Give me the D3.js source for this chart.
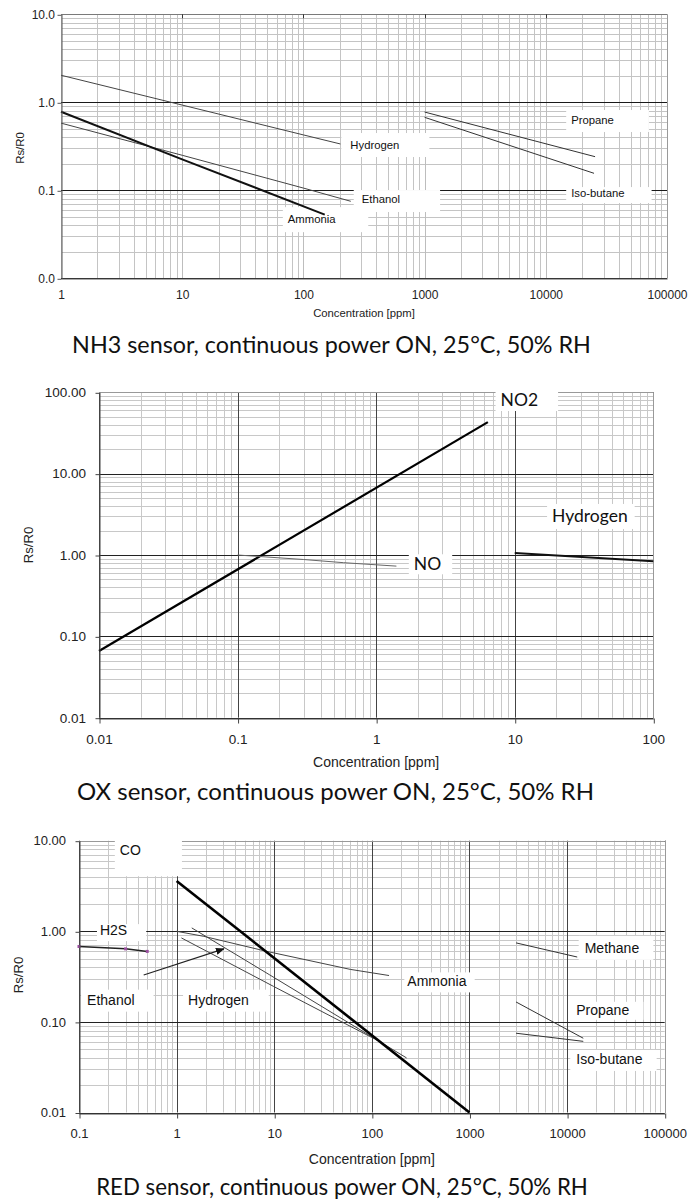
<!DOCTYPE html>
<html><head><meta charset="utf-8">
<script src="https://cdn.jsdelivr.net/npm/d3@7"></script>
<style>body{margin:0;background:#fff}</style>
</head><body>
<svg id="c" width="688" height="1203"></svg>
<script>
// ---------------- DATA ----------------
// Chart 1: NH3 sensor
const nh3XTicks = [1, 10, 100, 1000, 10000, 100000];
const nh3XLabels = ["1", "10", "100", "1000", "10000", "100000"];
const nh3YTicks = [0.01, 0.1, 1, 10];
const nh3YLabels = ["0.0", "0.1", "1.0", "10.0"];
const nh3Hydrogen = [[1, 2.03], [10, 0.93], [100, 0.426], [202, 0.336]];
const nh3Ethanol = [[1, 0.58], [10, 0.25], [100, 0.106], [246, 0.075]];
const nh3Ammonia = [[1, 0.78], [10, 0.225], [150, 0.053]];
const nh3Propane = [[1000, 0.775], [25500, 0.241]];
const nh3Isobutane = [[1000, 0.675], [25000, 0.156]];
const nh3Labels = [
  {t: "Hydrogen", x: 244, y: 0.327},
  {t: "Ethanol", x: 303, y: 0.0796},
  {t: "Ammonia", x: 74.4, y: 0.047},
  {t: "Propane", x: 16200, y: 0.629},
  {t: "Iso-butane", x: 16200, y: 0.093}
];

// Chart 2: OX sensor
const oxXTicks = [0.01, 0.1, 1, 10, 100];
const oxXLabels = ["0.01", "0.1", "1", "10", "100"];
const oxYTicks = [0.01, 0.1, 1, 10, 100];
const oxYLabels = ["0.01", "0.10", "1.00", "10.00", "100.00"];
const oxNO2 = [[0.01, 0.066], [6.4, 43]];
const oxNO = [[0.1, 1.0], [0.3, 0.88], [0.58, 0.805], [1.4, 0.73]];
const oxHydrogen = [[10, 1.06], [100, 0.84]];
const oxLabels = [
  {t: "NO2", x: 7.9, y: 80.4},
  {t: "Hydrogen", x: 18.6, y: 3.02},
  {t: "NO", x: 1.87, y: 0.769}
];

// Chart 3: RED sensor
const redXTicks = [0.1, 1, 10, 100, 1000, 10000, 100000];
const redXLabels = ["0.1", "1", "10", "100", "1000", "10000", "100000"];
const redYTicks = [0.01, 0.1, 1, 10];
const redYLabels = ["0.01", "0.10", "1.00", "10.00"];
const redCO = [[1, 3.6], [1000, 0.01]];
const redH2S = [[0.1, 0.68], [0.3, 0.64], [0.5, 0.60]];
const redAmmonia = [[1, 1.0], [1.9, 0.88], [8.4, 0.6], [60, 0.38], [150, 0.325]];
const redEthanol = [[1.43, 1.09], [9, 0.33], [227, 0.04]];
const redHydrogen = [[1.12, 0.845], [9.8, 0.247], [95.6, 0.069], [125, 0.06]];
const redMethane = [[3000, 0.745], [12700, 0.52]];
const redPropane = [[3000, 0.166], [14650, 0.066]];
const redIsobutane = [[3000, 0.075], [14650, 0.061]];
const redArrow = [[0.46, 0.33], [3.05, 0.64]];
const redLabels = [
  {t: "CO", x: 0.262, y: 7.85},
  {t: "H2S", x: 0.164, y: 1.03},
  {t: "Ethanol", x: 0.121, y: 0.176},
  {t: "Hydrogen", x: 1.31, y: 0.176},
  {t: "Ammonia", x: 231, y: 0.28},
  {t: "Methane", x: 15150, y: 0.656},
  {t: "Propane", x: 12420, y: 0.136},
  {t: "Iso-butane", x: 12420, y: 0.039}
];

const titles = [
  "NH3 sensor, continuous power ON, 25°C, 50% RH",
  "OX sensor, continuous power ON, 25°C, 50% RH",
  "RED sensor, continuous power ON, 25°C, 50% RH"
];
const axisTitleX = "Concentration [ppm]";
const axisTitleY = "Rs/R0";

// ---------------- LAYOUT / STYLE ----------------
const SANS = "'Liberation Sans', Arial, sans-serif";
const TITLEF = "Lato, 'Open Sans', sans-serif";
const svg = d3.select("#c");
svg.append("rect").attr("width", 688).attr("height", 1203).attr("fill", "#fff");

// box paddings [left, right, top, bottom] around label text (px)
const nh3Box = [[9, 30, 12, 12], [8, 40, 9, 13], [5, 32, 12, 13], [5, 35, 10, 12], [5, 27, 6, 10]];
const oxBox = [[5, 20, 11, 11], [5, 7, 12, 13], [5, 11, 10, 10]];
const redBox = [[5, 41, 11, 26], [3, 19, 6, 11], [6, 19, 10, 12], [5, 20, 10, 12], [3, 8, 9, 11], [6, 14, 12, 12], [2, 14, 8, 10], [6, 14, 9, 12]];

function minors(dom) {
  const out = [];
  const e0 = Math.round(Math.log10(dom[0])), e1 = Math.round(Math.log10(dom[1]));
  for (let e = e0; e < e1; e++) for (let k = 2; k <= 9; k++) out.push(k * Math.pow(10, e));
  return out;
}
function majors(dom) {
  const out = [];
  const e0 = Math.round(Math.log10(dom[0])), e1 = Math.round(Math.log10(dom[1]));
  for (let e = e0; e <= e1; e++) out.push(Math.pow(10, e));
  return out;
}
const snap = v => Math.round(v) + 0.5;

function drawChart(c) {
  const g = svg.append("g");
  const x = d3.scaleLog().domain(c.xDom).range(c.xRange);
  const y = d3.scaleLog().domain(c.yDom).range(c.yRange);
  const [x0, x1] = c.xRange, [y1, y0] = c.yRange;

  // minor grid
  const grid = g.append("g");
  grid.selectAll(".vm").data(minors(c.xDom)).join("line")
    .attr("x1", d => snap(x(d))).attr("x2", d => snap(x(d))).attr("y1", y0).attr("y2", y1)
    .attr("stroke", c.minorCol).attr("stroke-width", 1);
  grid.selectAll(".hm").data(minors(c.yDom)).join("line")
    .attr("y1", d => snap(y(d))).attr("y2", d => snap(y(d))).attr("x1", x0).attr("x2", x1)
    .attr("stroke", c.minorCol).attr("stroke-width", 1);
  // major grid
  grid.selectAll(".vM").data(majors(c.xDom)).join("line")
    .attr("x1", d => snap(x(d))).attr("x2", d => snap(x(d))).attr("y1", y0).attr("y2", y1)
    .attr("stroke", c.majorVCol).attr("stroke-width", 1);
  grid.selectAll(".hM").data(majors(c.yDom)).join("line")
    .attr("y1", d => snap(y(d))).attr("y2", d => snap(y(d))).attr("x1", x0).attr("x2", x1)
    .attr("stroke", c.majorHCol).attr("stroke-width", 1);
  // borders
  g.append("line").attr("x1", x0).attr("x2", x1).attr("y1", snap(y0)).attr("y2", snap(y0)).attr("stroke", c.topCol);
  g.append("line").attr("x1", snap(x1)).attr("x2", snap(x1)).attr("y1", y0).attr("y2", y1).attr("stroke", c.rightCol);
  if (c.topTicks) {
    g.selectAll(".tt").data(c.xTicks.slice(1, -1)).join("line")
      .attr("x1", d => snap(x(d))).attr("x2", d => snap(x(d))).attr("y1", y0).attr("y2", y0 + 4)
      .attr("stroke", "#333");
  }

  // label boxes
  const lab = g.append("g");
  const labG = lab.selectAll("g").data(c.labels).join("g");
  labG.append("rect").attr("fill", "#fff");
  labG.append("text")
    .attr("x", d => x(d.x)).attr("y", d => y(d.y)).attr("dy", "0.35em")
    .attr("font-family", c.labelFont).attr("font-size", c.labelSize).attr("fill", "#111")
    .text(d => d.t);

  // lines
  const line = d3.line().x(d => x(d[0])).y(d => y(d[1]));
  const lines = g.append("g").attr("fill", "none").attr("stroke-linejoin", "round");
  c.series.forEach(s => {
    lines.append("path").datum(s.data).attr("d", line)
      .attr("stroke", s.col).attr("stroke-width", s.w);
    if (s.markers) {
      lines.selectAll(null).data(s.data).join("rect")
        .attr("x", d => x(d[0]) - 1.5).attr("y", d => y(d[1]) - 1.5)
        .attr("width", 3).attr("height", 3).attr("fill", s.markers).attr("stroke", "none");
    }
  });
  if (c.arrow) {
    const defs = svg.append("defs");
    defs.append("marker").attr("id", "ah").attr("viewBox", "0 0 10 10").attr("refX", 9).attr("refY", 5)
      .attr("markerWidth", 8).attr("markerHeight", 8).attr("orient", "auto-start-reverse")
      .append("path").attr("d", "M0,1 L10,5 L0,9 z").attr("fill", "#111");
    lines.append("path").datum(c.arrow).attr("d", line).attr("stroke", "#222").attr("stroke-width", 1.1)
      .attr("marker-end", "url(#ah)");
  }

  // size boxes from text
  labG.each(function (d, i) {
    const t = d3.select(this).select("text").node();
    const bb = t.getBBox();
    const p = c.box[i];
    const cy = y(d.y);
    d3.select(this).select("rect")
      .attr("x", bb.x - p[0]).attr("width", bb.width + p[0] + p[1])
      .attr("y", cy - p[2]).attr("height", p[2] + p[3]);
  });
  lab.raise();
  lines.raise();
  labG.selectAll("text").raise();
  // keep texts on top of lines
  const txt = g.append("g");
  labG.each(function () { txt.node().appendChild(d3.select(this).select("text").node()); });

  // axes
  const ax = d3.axisBottom(x).tickValues(c.xTicks).tickFormat((d, i) => c.xLabels[i])
    .tickSize(c.xTickSize).tickSizeOuter(0).tickPadding(c.xPad);
  const gx = g.append("g").attr("transform", `translate(0,${snap(y1) - 0.5})`).call(ax);
  gx.select(".domain").attr("stroke", c.axisCol).attr("transform", "translate(0,0.5)");
  gx.selectAll(".tick line").attr("stroke", c.axisCol).attr("transform", "translate(0.5,0.5)");
  gx.selectAll("text").attr("font-family", SANS).attr("font-size", c.tickSize).attr("fill", "#222");

  const ay = d3.axisLeft(y).tickValues(c.yTicks).tickFormat((d, i) => c.yLabels[i])
    .tickSize(4).tickSizeOuter(0).tickPadding(c.yPad);
  const gy = g.append("g").attr("transform", `translate(${snap(x0) - 0.5},0)`).call(ay);
  gy.select(".domain").attr("stroke", c.axisCol).attr("transform", "translate(0.5,0)");
  gy.selectAll(".tick line").attr("stroke", c.axisCol).attr("transform", "translate(0.5,0.5)");
  gy.selectAll("text").attr("font-family", SANS).attr("font-size", c.tickSize).attr("fill", "#222");

  // axis titles
  g.append("text").attr("x", (x0 + x1) / 2).attr("y", c.xTitleY).attr("dy", "0.35em")
    .attr("text-anchor", "middle").attr("font-family", SANS).attr("font-size", c.xTitleSize)
    .attr("fill", "#222").text(axisTitleX);
  g.append("text").attr("transform", `translate(${c.yTitleX},${c.yTitleY}) rotate(-90)`).attr("dy", "0.35em")
    .attr("text-anchor", "middle").attr("font-family", SANS).attr("font-size", c.yTitleSize)
    .attr("fill", "#222").text(axisTitleY);

  // chart title, fitted to width
  const tt = g.append("text").attr("x", c.titleX).attr("y", c.titleY).attr("dy", "0.35em")
    .attr("text-anchor", "middle").attr("font-family", TITLEF).attr("font-size", 20)
    .attr("fill", "#111").text(c.title);
  const len = tt.node().getComputedTextLength();
  tt.attr("font-size", 20 * c.titleW / len);
}

drawChart({
  xDom: [1, 100000], xRange: [61, 667], yDom: [0.01, 10], yRange: [278.3, 14.3],
  xTicks: nh3XTicks, xLabels: nh3XLabels, yTicks: nh3YTicks, yLabels: nh3YLabels,
  minorCol: "#c4c4c4", majorVCol: "#bdbdbd", majorHCol: "#1a1a1a", topCol: "#7a7a7a", rightCol: "#9a9a9a",
  axisCol: "#555", topTicks: true,
  xTickSize: 0, xPad: 12, yPad: 2, tickSize: 12,
  labels: nh3Labels, box: nh3Box, labelFont: SANS, labelSize: 11.3,
  series: [
    {data: nh3Hydrogen, col: "#444", w: 1},
    {data: nh3Ethanol, col: "#444", w: 1},
    {data: nh3Ammonia, col: "#111", w: 2},
    {data: nh3Propane, col: "#333", w: 1},
    {data: nh3Isobutane, col: "#333", w: 1}
  ],
  xTitleY: 313, xTitleSize: 11.3, yTitleX: 20, yTitleY: 148, yTitleSize: 11.4,
  title: titles[0], titleX: 331.5, titleY: 345, titleW: 519
});

drawChart({
  xDom: [0.01, 100], xRange: [99, 653.3], yDom: [0.01, 100], yRange: [717.7, 392.3],
  xTicks: oxXTicks, xLabels: oxXLabels, yTicks: oxYTicks, yLabels: oxYLabels,
  minorCol: "#c8c8c8", majorVCol: "#444", majorHCol: "#222", topCol: "#999", rightCol: "#999",
  axisCol: "#444", topTicks: false,
  xTickSize: 5, xPad: 11, yPad: 9, tickSize: 13.5,
  labels: oxLabels, box: oxBox, labelFont: TITLEF, labelSize: 17.5,
  series: [
    {data: oxNO2, col: "#000", w: 2.2},
    {data: oxNO, col: "#666", w: 1},
    {data: oxHydrogen, col: "#111", w: 2}
  ],
  xTitleY: 761.7, xTitleSize: 14, yTitleX: 28.3, yTitleY: 545, yTitleSize: 13.2,
  title: titles[1], titleX: 335.5, titleY: 791.7, titleW: 517
});

drawChart({
  xDom: [0.1, 100000], xRange: [79, 664.7], yDom: [0.01, 10], yRange: [1112.5, 840.7],
  xTicks: redXTicks, xLabels: redXLabels, yTicks: redYTicks, yLabels: redYLabels,
  minorCol: "#c8c8c8", majorVCol: "#444", majorHCol: "#222", topCol: "#999", rightCol: "#999",
  axisCol: "#444", topTicks: false,
  xTickSize: 5, xPad: 11, yPad: 9, tickSize: 13,
  labels: redLabels, box: redBox, labelFont: SANS, labelSize: 14,
  series: [
    {data: redAmmonia, col: "#444", w: 1},
    {data: redEthanol, col: "#444", w: 1},
    {data: redHydrogen, col: "#444", w: 1},
    {data: redMethane, col: "#333", w: 1},
    {data: redPropane, col: "#333", w: 1},
    {data: redIsobutane, col: "#333", w: 1},
    {data: redH2S, col: "#222", w: 1.5, markers: "#9b4fa0"},
    {data: redCO, col: "#000", w: 2.6}
  ],
  arrow: redArrow,
  xTitleY: 1159.3, xTitleSize: 14, yTitleX: 18.3, yTitleY: 975, yTitleSize: 13.2,
  title: titles[2], titleX: 342, titleY: 1187.3, titleW: 492
});
</script>
</body></html>
